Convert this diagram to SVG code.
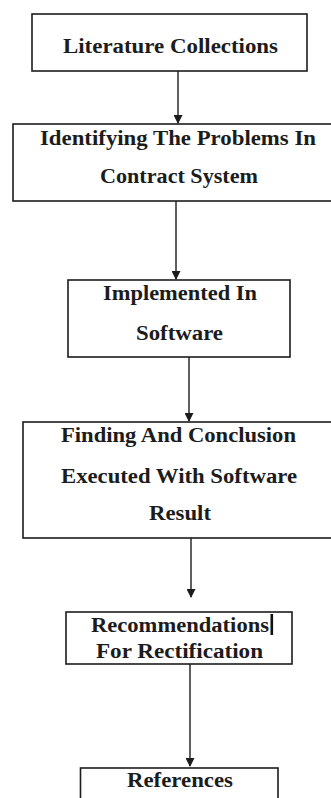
<svg xmlns="http://www.w3.org/2000/svg" width="331" height="798" viewBox="0 0 331 798">
<style>
.box{fill:#fff;stroke:#1c1c1c;stroke-width:1.6}
.con{stroke:#1c1c1c;stroke-width:1.4;fill:none;marker-end:url(#arr)}
</style>
<defs>
<marker id="arr" markerUnits="userSpaceOnUse" markerWidth="9" markerHeight="10" refX="4.5" refY="9" orient="0" viewBox="0 0 9 10">
<path d="M0,0 L9,0 L4.5,9 z" fill="#1c1c1c" transform="translate(0,1)"/>
</marker>
</defs>
<rect width="331" height="798" fill="#fff"/>
<g font-family="Liberation Serif, Times New Roman, Tinos, DejaVu Serif, Noto Serif, serif" font-weight="bold" font-size="20" fill="#1c1c1c" text-anchor="middle">
<g id="n1">
<rect class="box" x="32" y="14" width="275" height="57"/>
<text x="170.5" y="53" textLength="215" lengthAdjust="spacingAndGlyphs">Literature Collections</text>
</g>
<g id="n2">
<rect class="box" x="13" y="124" width="325" height="77"/>
<text x="178" y="145" textLength="276" lengthAdjust="spacingAndGlyphs">Identifying The Problems In</text>
<text x="179" y="183" textLength="158" lengthAdjust="spacingAndGlyphs">Contract System</text>
</g>
<g id="n3">
<rect class="box" x="68" y="280" width="222" height="77"/>
<text x="180" y="300" textLength="154" lengthAdjust="spacingAndGlyphs">Implemented In</text>
<text x="179.5" y="340" textLength="87" lengthAdjust="spacingAndGlyphs">Software</text>
</g>
<g id="n4">
<rect class="box" x="23" y="422" width="315" height="116"/>
<text x="178.5" y="442" textLength="235" lengthAdjust="spacingAndGlyphs">Finding And Conclusion</text>
<text x="179" y="483" textLength="236" lengthAdjust="spacingAndGlyphs">Executed With Software</text>
<text x="180" y="520" textLength="62" lengthAdjust="spacingAndGlyphs">Result</text>
</g>
<g id="n5">
<rect class="box" x="66" y="612" width="226" height="52"/>
<text x="180" y="632" textLength="178" lengthAdjust="spacingAndGlyphs">Recommendations</text>
<rect x="270.5" y="614" width="2.6" height="21" fill="#111"/>
<text x="179.5" y="658" textLength="167" lengthAdjust="spacingAndGlyphs">For Rectification</text>
</g>
<g id="n6">
<rect class="box" x="80.5" y="768" width="197.5" height="40"/>
<text x="180" y="787" textLength="106" lengthAdjust="spacingAndGlyphs">References</text>
</g>
</g>
<g id="connectors">
<line class="con" x1="178" y1="71" x2="178" y2="123"/>
<line class="con" x1="176" y1="201" x2="176" y2="279"/>
<line class="con" x1="189" y1="357" x2="189" y2="421"/>
<line class="con" x1="191" y1="538" x2="191" y2="597"/>
<line class="con" x1="190" y1="664" x2="190" y2="766"/>
</g>
</svg>
